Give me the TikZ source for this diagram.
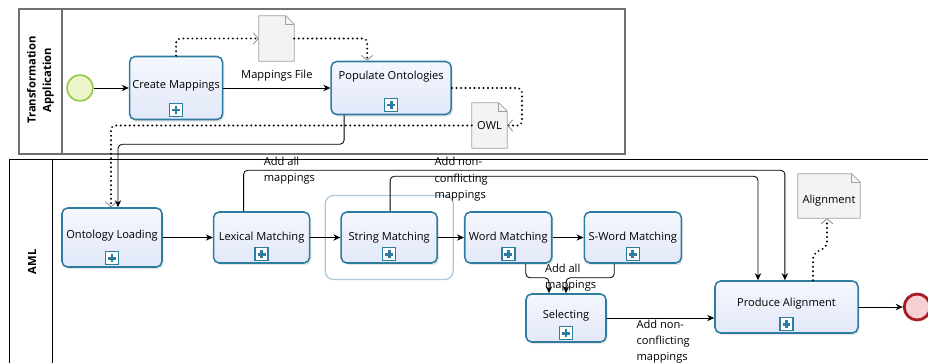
\documentclass[tikz,border=0pt]{standalone}
\usepackage{fontspec}
\setmainfont{Open Sans}
\usepackage{tikz}
\usetikzlibrary{arrows.meta}
\usetikzlibrary{positioning}
\usetikzlibrary{shadows}

\definecolor{taskline}{RGB}{46,125,160}
\definecolor{tasktop}{RGB}{245,247,254}
\definecolor{taskbot}{RGB}{226,232,248}
\definecolor{startline}{RGB}{141,198,63}
\definecolor{startfill}{RGB}{236,246,202}
\definecolor{endline}{RGB}{166,28,36}
\definecolor{endfill}{RGB}{246,208,212}
\definecolor{docline}{RGB}{160,160,160}
\definecolor{docfill}{RGB}{243,243,243}
\definecolor{groupline}{RGB}{172,200,214}
\definecolor{poolline}{RGB}{112,112,112}

\tikzstyle{task} = [rectangle, rounded corners=4pt, draw=taskline, line width=1.1pt, top color=tasktop, bottom color=taskbot, drop shadow={shadow xshift=1.2pt, shadow yshift=-1.5pt, opacity=0.2}, inner sep=0pt, align=center]
\tikzstyle{plusbox} = [rectangle, minimum size=0.325cm, inner sep=0pt, draw=taskline, line width=1.1pt, fill=white, path picture={\draw[taskline, line width=2pt] ([xshift=-2.8pt]path picture bounding box.center) -- ([xshift=2.8pt]path picture bounding box.center) ([yshift=-2.8pt]path picture bounding box.center) -- ([yshift=2.8pt]path picture bounding box.center);}]
\tikzstyle{startevent} = [circle, minimum size=0.65cm, inner sep=0pt, draw=startline, line width=1.1pt, fill=startfill]
\tikzstyle{endevent} = [circle, minimum size=0.65cm, inner sep=0pt, draw=endline, line width=2pt, fill=endfill]
\tikzstyle{docnode} = [rectangle, minimum width=0.875cm, minimum height=1.125cm, inner sep=0pt, fill=docfill]
\tikzstyle{taskgroup} = [rectangle, rounded corners=6pt, draw=groupline, line width=0.9pt, minimum width=3.2cm, minimum height=2.1cm]
\tikzstyle{lanelabel} = [rotate=90, align=center, font=\bfseries\fontsize{8}{11}\selectfont]
\tikzstyle{arrow} = [-{Stealth[length=5pt, width=4.5pt]}, line width=0.6pt, rounded corners=3pt]
\tikzstyle{assoc} = [-{Straight Barb[length=3.5pt, width=8pt, line width=0.5pt, color=gray]}, line width=1.5pt, line cap=round, dash pattern=on 0pt off 3.2pt, rounded corners=3pt]
\tikzstyle{flowlabel} = [align=left, inner sep=1pt]

\newcommand{\docoutline}[1]{%
  \fill[white] ([xshift=-6pt]#1.north east) -- (#1.north east) -- ([yshift=-6pt]#1.north east) -- cycle;
  \draw[docline, line width=0.6pt] (#1.south west) -- (#1.north west) -- ([xshift=-6pt]#1.north east) -- ([yshift=-6pt]#1.north east) -- (#1.south east) -- cycle;
  \draw[docline, line width=0.6pt] ([xshift=-6pt]#1.north east) |- ([yshift=-6pt]#1.north east);
}

\begin{document}
\begin{tikzpicture}[x=0.025cm, y=-0.025cm, font=\fontsize{7.9}{11.5}\selectfont]
  \useasboundingbox (0,0) rectangle (928,363);

  % Pools and lanes
  \draw[poolline, line width=1.2pt] (19,9) rectangle (625,154);
  \draw[poolline, line width=1.2pt] (62,9) -- (62,154);
  \draw[line width=0.7pt] (928,159) -- (9,159) -- (9,363);
  \draw[line width=0.7pt] (52,159) -- (52,363);
  \node (lanetop) [lanelabel] at (40.5,80) {Transformation\\Application};
  \node (laneaml) [lanelabel] at (32,262) {AML};

  % We start by placing the events and tasks
  \node (start) [startevent] at (80,88) {};
  \node (cm) [task, right=0.875cm of start, minimum width=2.325cm, minimum height=1.575cm, text depth=5.4pt] {Create Mappings};
  \node (po) [task, right=2.675cm of cm, minimum width=3cm, minimum height=1.325cm, text depth=18pt] {Populate Ontologies};
  \node (mf) [docnode] at (276.5,38.5) {};
  \node (owl) [docnode] at (489.5,125.5) {OWL};

  \node (ol) [task, minimum width=2.5cm, minimum height=1.475cm, text depth=4.3pt] at (112,237.5) {Ontology Loading};
  \node (lm) [task, right=1.25cm of ol, minimum width=2.4cm, minimum height=1.275cm] {Lexical Matching};
  \node (sm) [task, right=0.75cm of lm, minimum width=2.4cm, minimum height=1.275cm] {String Matching};
  \node (grp) [taskgroup] at (sm) {};
  \node (wm) [task, right=0.65cm of sm, minimum width=2.175cm, minimum height=1.275cm] {Word Matching};
  \node (swm) [task, right=0.775cm of wm, minimum width=2.425cm, minimum height=1.275cm] {S-Word Matching};
  \node (sel) [task, minimum width=2cm, minimum height=1.2cm, text depth=4.6pt] at (566,318) {Selecting};
  \node (pa) [task, minimum width=3.575cm, minimum height=1.3cm, text depth=7.4pt] at (786.5,307) {Produce Alignment};
  \node (finish) [endevent, right=1.1cm of pa] {};
  \node (al) [docnode, minimum width=1.55cm, minimum height=1.1cm, text height=13pt] at (829,196) {Alignment};

  % Sub-process markers
  \node (cm-plus) [plusbox, above=0.075cm of cm.south] {};
  \node (po-plus) [plusbox, above=0.075cm of po.south] {};
  \node (ol-plus) [plusbox, above=0.06cm of ol.south] {};
  \node (lm-plus) [plusbox, above=0.06cm of lm.south] {};
  \node (sm-plus) [plusbox, above=0.06cm of sm.south] {};
  \node (wm-plus) [plusbox, above=0.06cm of wm.south] {};
  \node (swm-plus) [plusbox, above=0.06cm of swm.south] {};
  \node (sel-plus) [plusbox, above=0.06cm of sel.south] {};
  \node (pa-plus) [plusbox, above=0.06cm of pa.south] {};

  \docoutline{mf}
  \docoutline{owl}
  \docoutline{al}

  % Draw the connections between blocks
  \draw [arrow] (start) -- (cm);
  \draw [arrow] (cm) -- node[above=3.5pt, inner sep=1pt] {Mappings File} (po);
  \draw [assoc] (cm.north) |- (mf.west);
  \draw [assoc] (mf.east) -| ([xshift=-0.6cm]po.north);
  \draw [assoc] (po.east) -- ++(70,0) |- (owl.east);
  \draw [assoc] (owl.west) -| ([xshift=-0.025cm]ol.north);
  \draw [arrow] ([xshift=-1.175cm]po.south) -- ++(0,29) -| ([xshift=0.15cm]ol.north);

  \draw [arrow] (ol) -- (lm);
  \draw [arrow] (lm) -- (sm);
  \draw [arrow] (sm) -- (wm);
  \draw [arrow] (wm) -- (swm);
  \draw [arrow] ([xshift=-0.45cm]lm.north) -- ++(0,-41) -| node[pos=0.017, anchor=west, flowlabel] {Add all\\mappings} ([xshift=-0.04cm]pa.north);
  \draw [arrow] ([xshift=0.025cm]sm.north) -- ++(0,-35) -| node[pos=0.058, anchor=west, yshift=-0.075cm, flowlabel] {Add non-\\conflicting\\mappings} ([xshift=-0.7125cm]pa.north);
  \draw [arrow] ([xshift=0.4375cm]wm.south) -- ++(0,14) -| node[pos=0.375, anchor=west, flowlabel] {Add all\\mappings} ([xshift=-0.425cm]sel.north);
  \draw [arrow] ([xshift=-0.4625cm]swm.south) -- ++(0,14) -| (sel.north);
  \draw [arrow] (sel.east) -- node[pos=0.26, anchor=north west, flowlabel] {Add non-\\conflicting\\mappings} (sel.east -| pa.west);
  \draw [arrow] (pa) -- (finish);
  \draw [assoc] ([xshift=0.6625cm]pa.north) -- ++(0,-26) -- ++(14,-8) -- ([xshift=-0.05cm]al.south);

\end{tikzpicture}
\end{document}
